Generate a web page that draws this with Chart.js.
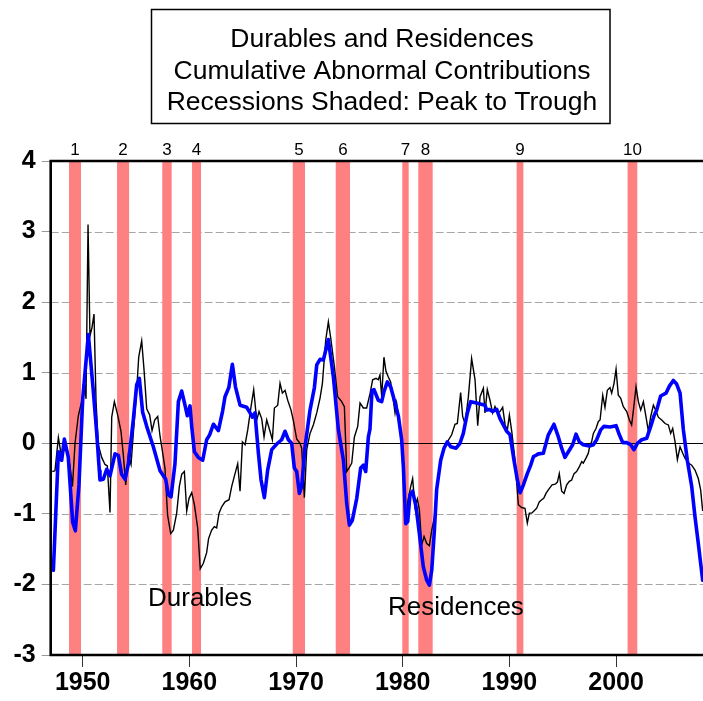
<!DOCTYPE html>
<html>
<head>
<meta charset="utf-8">
<title>Durables and Residences</title>
<script src="https://cdn.jsdelivr.net/npm/chart.js@4.4.0/dist/chart.umd.min.js"></script>
<style>
  html, body { margin: 0; padding: 0; background: #ffffff; overflow: hidden; }
  #wrap { width: 703px; height: 701px; position: relative; }
</style>
</head>
<body>
<div id="wrap"><canvas id="chart" width="703" height="701"></canvas></div>
<script>
// ---- Series: cumulative abnormal contributions (quarterly, decimal years) ----
const durYears = [
  1947.15, 1947.40, 1947.72, 1947.97, 1948.25, 1948.50, 1948.81, 1949.04, 1949.28, 1949.59,
  1949.90, 1950.22, 1950.31, 1950.50, 1950.68, 1950.87, 1951.06, 1951.25, 1951.46, 1951.78,
  1952.09, 1952.31, 1952.56, 1952.72, 1952.97, 1953.28, 1953.59, 1953.81, 1954.03, 1954.28,
  1954.53, 1954.75, 1955.06, 1955.25, 1955.53, 1955.75, 1956.00, 1956.28, 1956.50, 1956.75,
  1957.03, 1957.25, 1957.46, 1957.71, 1957.96, 1958.25, 1958.50, 1958.81, 1959.06, 1959.28,
  1959.53, 1959.75, 1959.97, 1960.22, 1960.47, 1960.78, 1961.02, 1961.31, 1961.62, 1961.80,
  1962.09, 1962.34, 1962.56, 1962.78, 1963.03, 1963.34, 1963.72, 1963.97, 1964.28, 1964.53,
  1964.75, 1964.97, 1965.22, 1965.47, 1965.78, 1966.03, 1966.31, 1966.53, 1966.78, 1967.00,
  1967.25, 1967.56, 1967.78, 1967.97, 1968.28, 1968.50, 1968.72, 1968.97, 1969.22, 1969.53,
  1969.75, 1970.06, 1970.37, 1970.53, 1970.78, 1971.00, 1971.31, 1971.62, 1971.94, 1972.25,
  1972.47, 1972.78, 1973.03, 1973.28, 1973.59, 1973.90, 1974.28, 1974.53, 1974.75, 1974.97,
  1975.22, 1975.47, 1975.78, 1976.00, 1976.31, 1976.62, 1976.93, 1977.18, 1977.50, 1977.71,
  1977.87, 1978.03, 1978.24, 1978.43, 1978.65, 1978.87, 1979.12, 1979.28, 1979.43, 1979.59,
  1979.90, 1980.28, 1980.47, 1980.75, 1980.93, 1981.15, 1981.37, 1981.56, 1981.78, 1982.00,
  1982.25, 1982.50, 1982.72, 1982.97, 1983.18, 1983.56, 1983.87, 1984.18, 1984.59, 1984.90,
  1985.12, 1985.43, 1985.62, 1985.84, 1986.15, 1986.46, 1986.78, 1987.03, 1987.25, 1987.56,
  1987.71, 1987.93, 1988.18, 1988.43, 1988.65, 1988.87, 1989.12, 1989.37, 1989.60, 1989.81,
  1990.00, 1990.22, 1990.53, 1990.84, 1991.15, 1991.46, 1991.68, 1991.87, 1992.09, 1992.30,
  1992.56, 1992.80, 1993.03, 1993.22, 1993.43, 1993.65, 1994.00, 1994.30, 1994.50, 1994.68,
  1994.90, 1995.12, 1995.37, 1995.62, 1995.84, 1996.06, 1996.30, 1996.56, 1996.78, 1996.93,
  1997.18, 1997.40, 1997.56, 1997.71, 1997.87, 1998.12, 1998.34, 1998.50, 1998.75, 1998.96,
  1999.18, 1999.43, 1999.59, 1999.81, 2000.00, 2000.21, 2000.43, 2000.68, 2001.00, 2001.25,
  2001.46, 2001.65, 2001.87, 2002.09, 2002.31, 2002.56, 2002.81, 2003.03, 2003.25, 2003.50,
  2003.71, 2003.96, 2004.28, 2004.59, 2004.90, 2005.12, 2005.31, 2005.53, 2005.75, 2006.00,
  2006.25, 2006.46, 2006.78, 2007.09, 2007.40, 2007.71, 2007.93, 2008.12
];
const durValues = [
  -0.40, -0.39, 0.08, -0.15, -0.10, -0.10, -0.32, -0.61, 0.00, 0.39,
  0.59, 0.78, 0.63, 3.10, 1.52, 1.64, 1.83, 0.60, -0.02, -0.20,
  -0.30, -0.32, -0.98, 0.37, 0.59, 0.40, 0.17, -0.17, -0.59, -0.17,
  -0.30, 0.15, 0.75, 1.22, 1.45, 1.04, 0.49, 0.40, 0.18, 0.33,
  0.38, 0.10, -0.10, -0.35, -1.02, -1.28, -1.23, -0.99, -0.61, -0.44,
  -0.40, -0.96, -0.78, -0.70, -0.87, -1.20, -1.78, -1.70, -1.55, -1.35,
  -1.23, -1.18, -1.20, -0.99, -0.90, -0.83, -0.80, -0.61, -0.43, -0.29,
  -0.68, 0.02, -0.02, 0.19, 0.52, 0.76, 0.33, 0.45, 0.35, 0.09,
  0.33, 0.17, 0.05, 0.50, 0.54, 0.85, 0.71, 0.75, 0.61, 0.47,
  0.32, 0.06, 0.00, -0.07, -0.77, -0.09, 0.14, 0.26, 0.43, 0.64,
  0.85, 1.46, 1.72, 1.46, 1.09, 0.66, 0.59, 0.52, -0.40, -0.35,
  -0.28, 0.09, 0.24, 0.57, 0.50, 0.50, 0.70, 0.90, 0.92, 0.90,
  0.97, 0.66, 1.22, 1.02, 0.94, 0.87, 0.61, 0.43, 0.57, 0.38,
  0.00, -1.13, -0.83, -0.61, -0.50, -0.90, -0.79, -0.94, -1.44, -1.32,
  -1.42, -1.45, -1.23, -1.05, -0.62, -0.22, -0.05, 0.02, 0.12, 0.27,
  0.28, 0.72, 0.38, 0.28, 0.65, 1.20, 0.90, 0.25, 0.66, 0.78,
  0.43, 0.76, 0.61, 0.43, 0.52, 0.43, 0.45, 0.51, 0.26, 0.19,
  0.40, 0.17, -0.24, -0.87, -0.91, -0.92, -1.13, -0.99, -0.99, -0.96,
  -0.92, -0.83, -0.80, -0.78, -0.71, -0.66, -0.59, -0.58, -0.55, -0.43,
  -0.68, -0.71, -0.59, -0.54, -0.52, -0.43, -0.40, -0.33, -0.26, -0.28,
  -0.21, -0.14, -0.02, 0.02, 0.14, 0.21, 0.31, 0.33, 0.68, 0.51,
  0.75, 0.79, 0.71, 0.85, 1.05, 0.68, 0.64, 0.52, 0.45, 0.33,
  0.26, 0.50, 0.80, 0.59, 0.47, 0.59, 0.37, 0.17, 0.38, 0.54,
  0.47, 0.37, 0.33, 0.28, 0.26, 0.14, 0.21, 0.02, -0.23, -0.05,
  -0.14, -0.21, -0.28, -0.31, -0.38, -0.50, -0.66, -0.96
];

const resYears = [
  1947.25, 1947.72, 1948.03, 1948.28, 1948.65, 1949.06, 1949.31, 1949.65, 1950.00, 1950.53,
  1951.00, 1951.31, 1951.56, 1951.62, 1951.93, 1952.25, 1952.56, 1953.03, 1953.34, 1953.65,
  1953.97, 1954.28, 1954.75, 1955.06, 1955.31, 1955.62, 1956.00, 1956.62, 1957.25, 1957.78,
  1958.03, 1958.28, 1958.65, 1958.97, 1959.28, 1959.59, 1959.81, 1960.06, 1960.22, 1960.47,
  1960.84, 1961.25, 1961.62, 1961.90, 1962.25, 1962.72, 1963.12, 1963.34, 1963.70, 1964.03,
  1964.32, 1964.75, 1965.37, 1965.69, 1965.90, 1966.15, 1966.47, 1966.72, 1967.03, 1967.34,
  1967.72, 1968.19, 1968.65, 1968.97, 1969.28, 1969.59, 1969.84, 1970.06, 1970.31, 1970.53,
  1970.84, 1971.31, 1971.72, 1971.94, 1972.25, 1972.56, 1973.03, 1973.50, 1973.97, 1974.44,
  1974.75, 1975.00, 1975.28, 1975.69, 1976.06, 1976.31, 1976.53, 1976.78, 1976.93, 1977.12,
  1977.31, 1977.71, 1978.03, 1978.24, 1978.56, 1978.87, 1979.28, 1979.60, 1979.90, 1980.06,
  1980.28, 1980.47, 1980.68, 1980.93, 1981.25, 1981.56, 1981.93, 1982.25, 1982.50, 1982.72,
  1982.97, 1983.18, 1983.56, 1983.87, 1984.18, 1984.50, 1985.00, 1985.37, 1985.68, 1986.06,
  1986.37, 1986.93, 1987.71, 1987.87, 1988.12, 1988.43, 1988.81, 1989.12, 1989.43, 1989.75,
  1990.06, 1990.43, 1990.75, 1991.00, 1991.31, 1991.68, 1992.00, 1992.25, 1992.50, 1992.71,
  1993.18, 1993.65, 1994.18, 1994.59, 1994.90, 1995.21, 1995.53, 1995.93, 1996.25, 1996.56,
  1996.93, 1997.50, 1997.87, 1998.18, 1998.56, 1998.87, 1999.43, 2000.00, 2000.31, 2000.62,
  2001.00, 2001.37, 2001.68, 2002.00, 2002.40, 2002.87, 2003.25, 2003.56, 2003.81, 2004.18,
  2004.68, 2005.00, 2005.37, 2005.68, 2006.00, 2006.31, 2006.68, 2007.09, 2007.40, 2007.71,
  2007.93, 2008.12
];
const resValues = [
  -1.80, -0.12, -0.24, 0.06, -0.20, -1.12, -1.24, -0.59, 0.63, 1.54,
  0.73, 0.15, -0.39, -0.52, -0.51, -0.37, -0.46, -0.15, -0.17, -0.44,
  -0.51, -0.29, 0.34, 0.83, 0.92, 0.44, 0.24, -0.05, -0.39, -0.51,
  -0.73, -0.76, -0.29, 0.59, 0.74, 0.54, 0.39, 0.53, 0.24, -0.12,
  -0.20, -0.24, 0.05, 0.12, 0.27, 0.18, 0.46, 0.66, 0.79, 1.12,
  0.80, 0.54, 0.51, 0.43, 0.37, 0.43, -0.14, -0.52, -0.77, -0.38,
  -0.09, -0.01, 0.05, 0.17, 0.05, 0.00, -0.35, -0.40, -0.71, -0.61,
  -0.05, 0.47, 0.79, 1.11, 1.19, 1.18, 1.47, 0.94, 0.19, -0.24,
  -0.85, -1.16, -1.09, -0.78, -0.35, -0.31, -0.40, 0.09, 0.20, 0.75,
  0.76, 0.61, 0.59, 0.73, 0.87, 0.80, 0.57, 0.38, 0.05, -0.33,
  -1.14, -1.11, -0.73, -0.68, -0.90, -1.28, -1.75, -1.94, -2.01, -1.80,
  -1.23, -0.66, -0.24, -0.07, 0.02, -0.05, -0.07, 0.00, 0.14, 0.43,
  0.59, 0.57, 0.54, 0.47, 0.48, 0.45, 0.48, 0.35, 0.26, 0.17,
  0.12, -0.24, -0.52, -0.70, -0.59, -0.43, -0.31, -0.19, -0.17, -0.15,
  -0.14, 0.12, 0.27, 0.09, -0.07, -0.20, -0.12, -0.02, 0.13, 0.02,
  -0.02, -0.04, -0.02, 0.05, 0.19, 0.24, 0.23, 0.25, 0.12, 0.01,
  0.01, -0.02, -0.09, 0.00, 0.05, 0.07, 0.24, 0.39, 0.47, 0.67,
  0.71, 0.81, 0.89, 0.84, 0.71, 0.19, -0.24, -0.61, -1.04, -1.42,
  -1.70, -1.94
];

// ---- Recessions, peak to trough ----
const recessionStart = [1948.72, 1953.22, 1957.46, 1960.25, 1969.69, 1973.72, 1979.96, 1981.46, 1990.68, 2001.08];
const recessionEnd   = [1949.84, 1954.35, 1958.34, 1961.09, 1970.84, 1975.06, 1980.56, 1982.81, 1991.31, 2001.99];
const recessionLabels = ['1', '2', '3', '4', '5', '6', '7', '8', '9', '10'];

// ---- Axis ticks and text ----
const xTicks = [1950, 1960, 1970, 1980, 1990, 2000];
const yTicks = [-3, -2, -1, 0, 1, 2, 3, 4];
const titleLines = ['Durables and Residences', 'Cumulative Abnormal Contributions', 'Recessions Shaded: Peak to Trough'];
const seriesNames = ['Durables', 'Residences'];

const FONT = '"Liberation Sans", Arial, Helvetica, sans-serif';
Chart.defaults.font.family = FONT;

function toPoints(xs, ys) {
  return xs.map((x, i) => ({ x: x, y: ys[i] }));
}

// Background layer: dashed grid, recession shading, zero line
const backdrop = {
  id: 'backdrop',
  beforeDatasetsDraw(chart) {
    const { ctx, chartArea: a, scales: { x, y } } = chart;
    ctx.save();
    // dashed horizontal grid
    ctx.strokeStyle = '#a6a6a6';
    ctx.lineWidth = 1;
    ctx.setLineDash([8, 3]);
    yTicks.forEach(v => {
      if (v === 0 || v === 4 || v === -3) return;
      const py = Math.round(y.getPixelForValue(v)) + 0.5;
      ctx.beginPath();
      ctx.moveTo(a.left, py);
      ctx.lineTo(a.right, py);
      ctx.stroke();
    });
    ctx.setLineDash([]);
    // recession bands
    ctx.fillStyle = '#ff8080';
    recessionStart.forEach((s, i) => {
      const x0 = x.getPixelForValue(s);
      const x1 = x.getPixelForValue(recessionEnd[i]);
      ctx.fillRect(x0, a.top, x1 - x0, a.bottom - a.top);
    });
    // zero line
    const z = Math.round(y.getPixelForValue(0)) + 0.5;
    ctx.strokeStyle = '#000000';
    ctx.lineWidth = 1;
    ctx.beginPath();
    ctx.moveTo(a.left, z);
    ctx.lineTo(a.right, z);
    ctx.stroke();
    ctx.restore();
  },
  afterDatasetsDraw(chart) {
    const { ctx, chartArea: a, scales: { x, y } } = chart;
    ctx.save();
    // frame: left, top, bottom
    ctx.strokeStyle = '#000000';
    ctx.lineWidth = 2.6;
    ctx.beginPath();
    ctx.moveTo(a.left, a.bottom);
    ctx.lineTo(a.left, a.top);
    ctx.moveTo(a.left - 1.3, a.top);
    ctx.lineTo(a.right, a.top);
    ctx.moveTo(a.left - 1.3, a.bottom);
    ctx.lineTo(a.right, a.bottom);
    ctx.stroke();
    // series captions
    ctx.fillStyle = '#000000';
    ctx.font = '26px ' + FONT;
    ctx.textAlign = 'left';
    ctx.textBaseline = 'alphabetic';
    ctx.fillText(seriesNames[0], x.getPixelForValue(1956.12), y.getPixelForValue(-2.31));
    ctx.fillText(seriesNames[1], x.getPixelForValue(1978.62), y.getPixelForValue(-2.43));
    // recession numbers above the frame
    ctx.font = '17px ' + FONT;
    ctx.textAlign = 'center';
    recessionStart.forEach((s, i) => {
      const cx = x.getPixelForValue((s + recessionEnd[i]) / 2);
      ctx.fillText(recessionLabels[i], cx, a.top - 6);
    });
    // boxed title
    ctx.lineWidth = 1.5;
    ctx.strokeRect(151.5, 9.5, 458.5, 114);
    ctx.font = '26.5px ' + FONT;
    titleLines.forEach((t, i) => {
      ctx.fillText(t, 382, 47 + i * 31.5);
    });
    ctx.restore();
  }
};

new Chart(document.getElementById('chart'), {
  type: 'line',
  data: {
    datasets: [
      {
        label: seriesNames[1],
        data: toPoints(resYears, resValues),
        borderColor: '#0000ff',
        borderWidth: 3.6,
        pointRadius: 0,
        tension: 0,
        borderJoinStyle: 'round',
        borderCapStyle: 'round',
        order: 0
      },
      {
        label: seriesNames[0],
        data: toPoints(durYears, durValues),
        borderColor: '#000000',
        borderWidth: 1.4,
        pointRadius: 0,
        tension: 0,
        order: 1
      }
    ]
  },
  options: {
    responsive: false,
    animation: false,
    devicePixelRatio: 1,
    layout: { padding: { top: 161, right: 0, left: 0, bottom: 0 } },
    plugins: {
      legend: { display: false },
      tooltip: { enabled: false },
      title: { display: false }
    },
    scales: {
      x: {
        type: 'linear',
        min: 1947,
        max: 2008.15,
        afterBuildTicks: s => { s.ticks = xTicks.map(v => ({ value: v })); },
        afterFit: s => { s.height = 46; },
        grid: { drawOnChartArea: false, drawTicks: true, tickLength: 12, tickColor: '#333333', lineWidth: 1 },
        border: { display: false },
        ticks: {
          color: '#000000',
          font: { size: 25, weight: 'bold', family: FONT },
          padding: 1,
          maxRotation: 0,
          autoSkip: false,
          callback: v => String(v)
        }
      },
      y: {
        type: 'linear',
        min: -3,
        max: 4,
        afterBuildTicks: s => { s.ticks = yTicks.map(v => ({ value: v })); },
        afterFit: s => { s.width = 50.7; },
        grid: { drawOnChartArea: false, drawTicks: true, tickLength: 9, tickColor: '#999999', lineWidth: 1 },
        border: { display: false },
        ticks: {
          color: '#000000',
          font: { size: 25, weight: 'bold', family: FONT },
          padding: 6,
          autoSkip: false,
          callback: v => String(v)
        }
      }
    }
  },
  plugins: [backdrop]
});
</script>
</body>
</html>
